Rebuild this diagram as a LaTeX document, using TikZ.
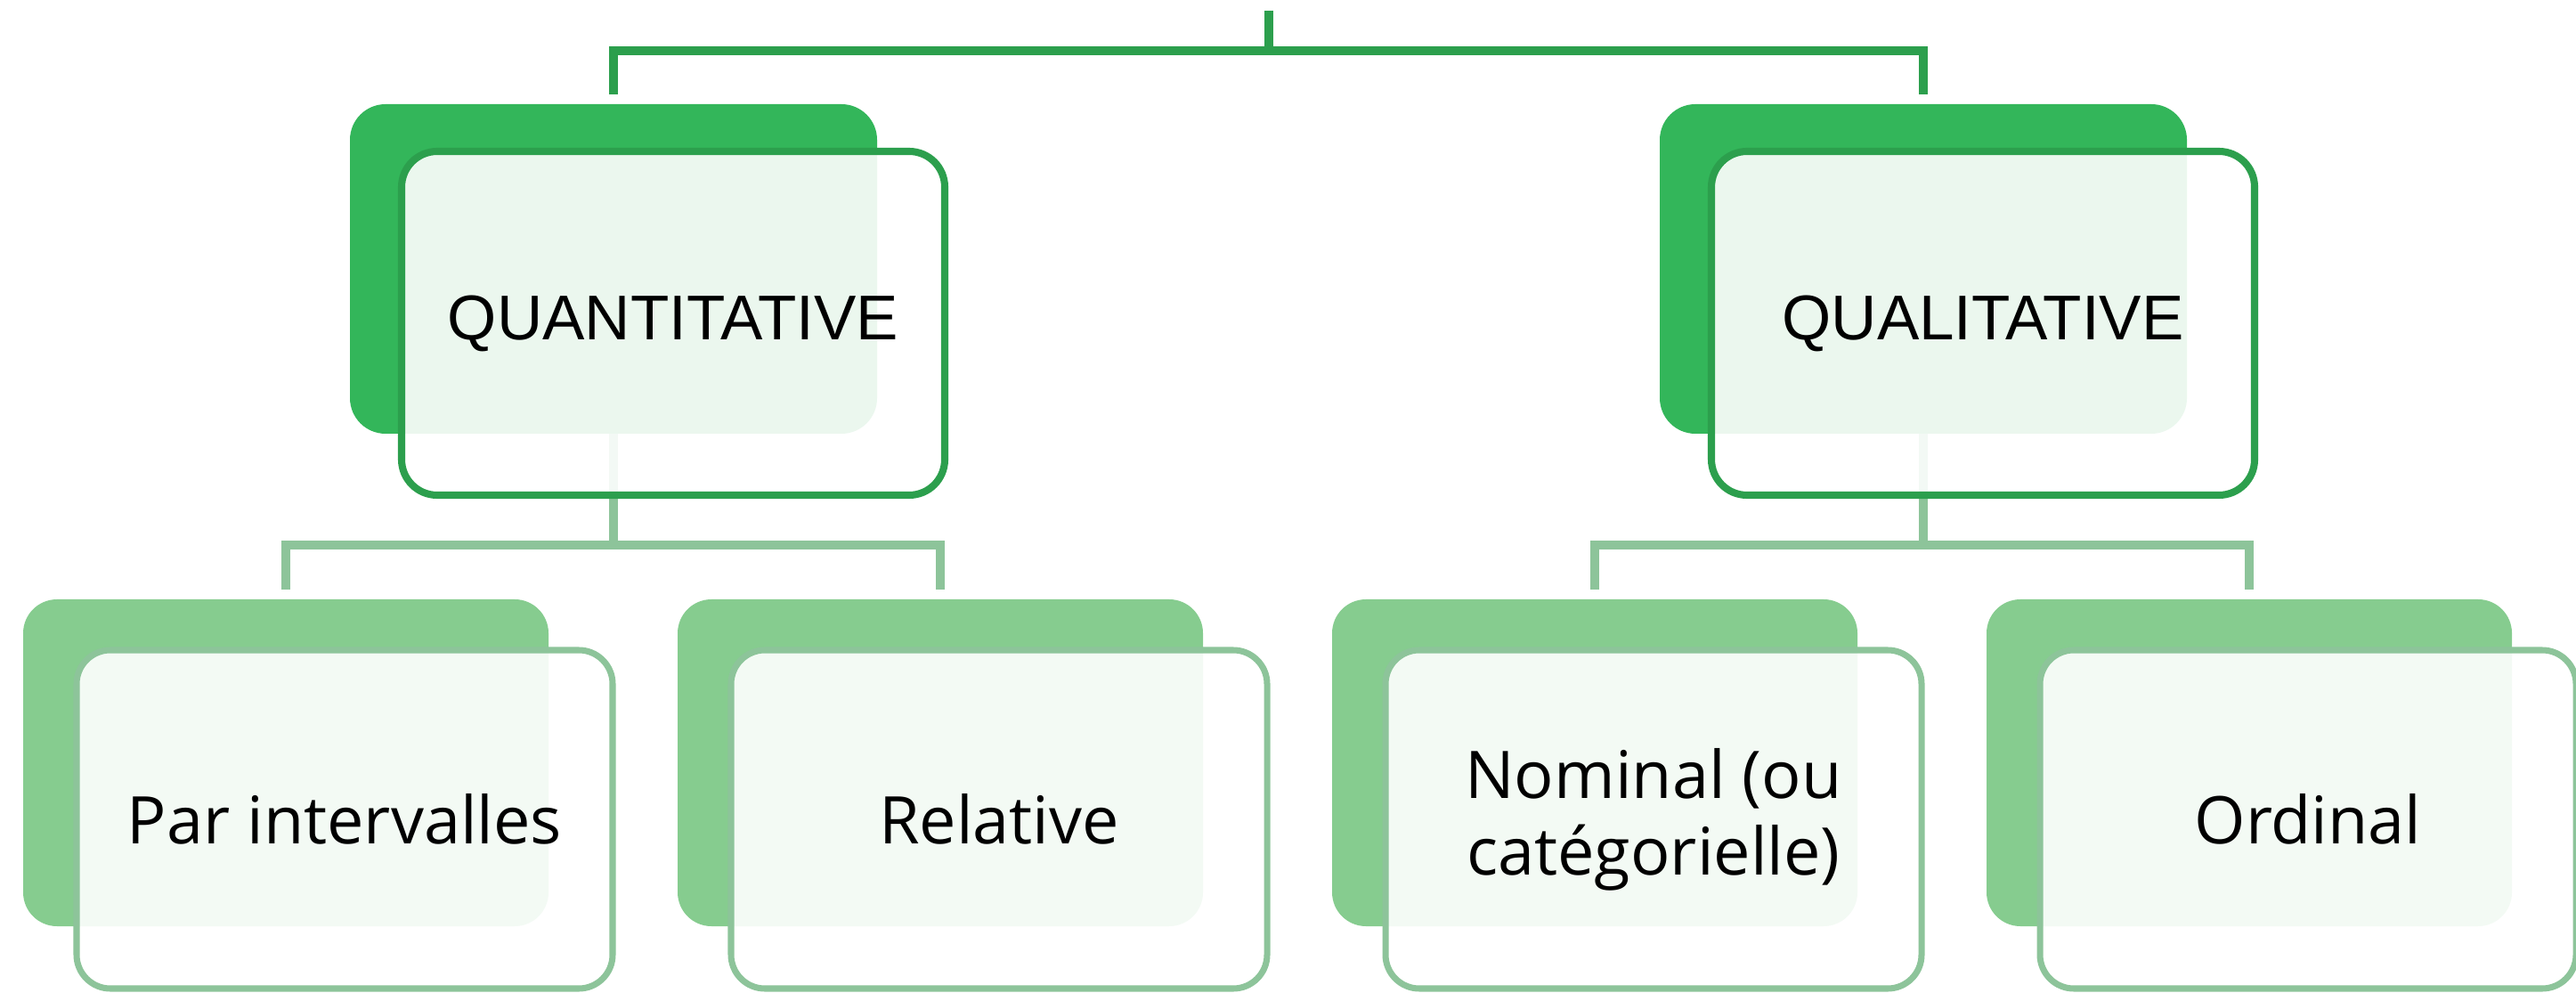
\documentclass[tikz,border=0pt]{standalone}
\usepackage{fontspec}
\setmainfont{Liberation Sans}
\newfontfamily\subfont{Open Sans}
\usetikzlibrary{positioning,backgrounds}
\definecolor{topgreen}{HTML}{33B65A}
\definecolor{toplinecol}{HTML}{2C9F4D}
\definecolor{subgreen}{HTML}{86CC8F}
\definecolor{sublinecol}{HTML}{8DC49A}
\tikzset{%
  inner sep=0pt,%
  outer sep=0pt,%
  topback/.style={rounded corners=0.4cm, fill=topgreen,
    minimum width=5.92cm, minimum height=3.70cm},
  topfront/.style={rounded corners=0.4cm, draw=toplinecol, line width=2.3pt,
    fill=white, fill opacity=0.9, text opacity=1,
    minimum width=6.10cm, minimum height=3.86cm,
    anchor=north west, xshift=0.58cm, yshift=-0.53cm,
    font=\fontsize{20.2}{24}\selectfont},
  subback/.style={rounded corners=0.38cm, fill=subgreen,
    minimum width=5.90cm, minimum height=3.67cm},
  subfront/.style={rounded corners=0.38cm, draw=sublinecol, line width=2pt,
    fill=white, fill opacity=0.9, text opacity=1,
    minimum width=6.02cm, minimum height=3.80cm,
    anchor=north west, xshift=0.60cm, yshift=-0.57cm, align=center,
    font=\subfont\fontsize{21}{24.5}\selectfont},
  toplink/.style={draw=toplinecol, line width=2.85pt},
  sublink/.style={draw=sublinecol, line width=2.85pt},
  gap/.style={shorten <=0.11cm, shorten >=0.11cm}
}

\begin{document}
\begin{tikzpicture}
	\useasboundingbox (0,0) rectangle (28.93,11.14);
	
	%% level one
	\node[topback] (quantiback) at (6.89,8.12) {};
	\node[topback, right=8.79cm of quantiback] (qualiback) {};
	\node[topfront] (quanti) at (quantiback.north west) {QUANTITATIVE};
	\node[topfront] (quali) at (qualiback.north west) {QUALITATIVE};
	
	%% level two
	\node[subback] (parback) at (3.21,2.575) {};
	\node[subback, right=1.45cm of parback] (relback) {};
	\node[subback, right=1.45cm of relback] (nomback) {};
	\node[subback, right=1.45cm of nomback] (ordback) {};
	\node[subfront] (par) at (parback.north west) {Par intervalles};
	\node[subfront] (rel) at (relback.north west) {Relative};
	\node[subfront] (nom) at (nomback.north west) {Nominal (ou\\cat\'egorielle)};
	\node[subfront] (ord) at (ordback.north west) {Ordinal};
	
	%% connectors
	\coordinate (root) at (14.25,11.02);
	\path (root) ++(0,-0.45) coordinate (rootjoin);
	\path (quantiback.south) ++(0,-1.25) coordinate (quantijoin);
	\path (qualiback.south) ++(0,-1.25) coordinate (qualijoin);
	\begin{scope}[on background layer]
		\draw[toplink] (root) -- (rootjoin);
		\draw[toplink, gap] (quantiback.north) |- (rootjoin) -| (qualiback.north);
		\draw[sublink] (quantiback.south) -- (quantijoin);
		\draw[sublink, gap] (parback.north) |- (quantijoin) -| (relback.north);
		\draw[sublink] (qualiback.south) -- (qualijoin);
		\draw[sublink, gap] (nomback.north) |- (qualijoin) -| (ordback.north);
	\end{scope}
\end{tikzpicture}
\end{document}
